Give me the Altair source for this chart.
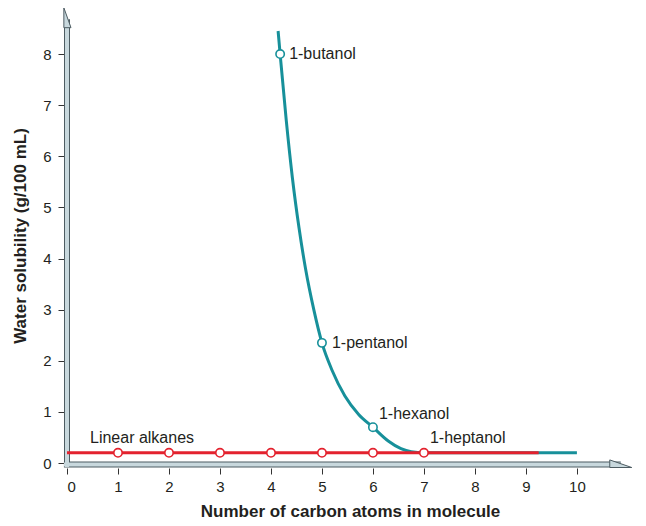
import altair as alt
import pandas as pd

# ---- data ----
alcohol_curve_x = [4.14, 4.18, 4.30, 4.42, 4.55, 4.68, 4.84, 5.00, 5.20, 5.45, 5.72, 6.00, 6.30, 6.55, 6.75, 7.00, 8.00, 10.00]
alcohol_curve_y = [8.45, 8.00, 6.70, 5.58, 4.60, 3.79, 3.00, 2.35, 1.81, 1.31, 0.95, 0.70, 0.43, 0.28, 0.22, 0.20, 0.20, 0.20]

alcohol_names = ["1-butanol", "1-pentanol", "1-hexanol"]
alcohol_x = [4.18, 5.0, 6.0]
alcohol_y = [8.0, 2.35, 0.70]

alkane_x = [1, 2, 3, 4, 5, 6, 7]
alkane_y = [0.2, 0.2, 0.2, 0.2, 0.2, 0.2, 0.2]
alkane_line_x = [0.0, 9.25]
alkane_line_y = [0.2, 0.2]

x_ticks = list(range(0, 11))
y_ticks = list(range(0, 9))

TEAL = "#17909a"
RED = "#e3222e"
TXT = "#231f20"
FONT = "Liberation Sans"
BAR_DARK = "#4d5c62"
BAR_LIGHT = "#c8d8dd"

xs = alt.Scale(domain=[0, 11.1], nice=False, zero=False)
ys = alt.Scale(domain=[0, 8.9], nice=False, zero=False)

curve_df = pd.DataFrame({"x": alcohol_curve_x, "y": alcohol_curve_y})
alc_df = pd.DataFrame({"x": alcohol_x, "y": alcohol_y, "name": alcohol_names})
alk_df = pd.DataFrame({"x": alkane_x, "y": alkane_y})
alk_line_df = pd.DataFrame({"x": alkane_line_x, "y": alkane_line_y})

xaxis = alt.Axis(values=x_ticks, domain=False, grid=False, tickSize=6, tickColor="#333333",
                 offset=5, labelFontSize=15, labelPadding=5, labelColor=TXT, labelFont=FONT,
                 title="Number of carbon atoms in molecule", titleFontSize=17,
                 titleFontWeight="bold", titleColor=TXT, titleFont=FONT, titlePadding=9)
yaxis = alt.Axis(values=y_ticks, domain=False, grid=False, tickSize=6, tickColor="#333333",
                 offset=3, labelFontSize=15, labelPadding=7, labelColor=TXT, labelFont=FONT,
                 title="Water solubility (g/100 mL)", titleFontSize=17,
                 titleFontWeight="bold", titleColor=TXT, titleFont=FONT, titlePadding=13)

# axis bars drawn as rules
ybar_df = pd.DataFrame({"x": [0.0], "y": [-0.08], "y2": [8.68]})
xbar_df = pd.DataFrame({"x": [-0.06], "x2": [10.86], "y": [-0.03]})

ybar_outer = alt.Chart(ybar_df).mark_rule(color=BAR_DARK, strokeWidth=6).encode(
    x=alt.X("x:Q", scale=xs, axis=xaxis), y=alt.Y("y:Q", scale=ys, axis=yaxis), y2="y2:Q")
ybar_inner = alt.Chart(ybar_df).mark_rule(color=BAR_LIGHT, strokeWidth=4).encode(
    x=alt.X("x:Q", scale=xs), y=alt.Y("y:Q", scale=ys), y2="y2:Q")
xbar_outer = alt.Chart(xbar_df).mark_rule(color=BAR_DARK, strokeWidth=6).encode(
    x=alt.X("x:Q", scale=xs), x2="x2:Q", y=alt.Y("y:Q", scale=ys))
xbar_inner = alt.Chart(xbar_df).mark_rule(color=BAR_LIGHT, strokeWidth=4).encode(
    x=alt.X("x:Q", scale=xs), x2="x2:Q", y=alt.Y("y:Q", scale=ys))

yarrow_df = pd.DataFrame({"x": [0.0], "y": [8.70]})
xarrow_df = pd.DataFrame({"x": [10.86], "y": [-0.03]})
yarrow = alt.Chart(yarrow_df).mark_point(
    shape="M-0.3,0.9 L-0.3,-1 L0.38,0.9 Z", filled=True, fill=BAR_LIGHT, stroke=BAR_DARK,
    strokeWidth=1, size=441, opacity=1).encode(x=alt.X("x:Q", scale=xs), y=alt.Y("y:Q", scale=ys))
xarrow = alt.Chart(xarrow_df).mark_point(
    shape="M-1,0.27 L1,0.27 L-1,-0.42 Z", filled=True, fill=BAR_LIGHT, stroke=BAR_DARK,
    strokeWidth=1, size=484, opacity=1).encode(x=alt.X("x:Q", scale=xs), y=alt.Y("y:Q", scale=ys))

teal_line = alt.Chart(curve_df).mark_line(color=TEAL, strokeWidth=3, interpolate="monotone").encode(
    x=alt.X("x:Q", scale=xs), y=alt.Y("y:Q", scale=ys), order="x:Q")
red_line = alt.Chart(alk_line_df).mark_line(color=RED, strokeWidth=3).encode(
    x=alt.X("x:Q", scale=xs), y=alt.Y("y:Q", scale=ys))

alc_pts = alt.Chart(alc_df).mark_point(shape="circle", filled=True, fill="white", stroke=TEAL,
                                       strokeWidth=1.6, size=70, opacity=1).encode(
    x=alt.X("x:Q", scale=xs), y=alt.Y("y:Q", scale=ys))
alk_pts = alt.Chart(alk_df).mark_point(shape="circle", filled=True, fill="white", stroke=RED,
                                       strokeWidth=1.6, size=70, opacity=1).encode(
    x=alt.X("x:Q", scale=xs), y=alt.Y("y:Q", scale=ys))

def label(df, dx, dy):
    return alt.Chart(df).mark_text(align="left", baseline="middle", dx=dx, dy=dy, fontSize=16,
                                   font=FONT, color=TXT).encode(
        x=alt.X("x:Q", scale=xs), y=alt.Y("y:Q", scale=ys), text="name:N")

lab_but = label(alc_df.iloc[[0]], 9, 0)
lab_pen = label(alc_df.iloc[[1]], 10, 0)
lab_hex = label(alc_df.iloc[[2]], 6, -13)
hep_df = pd.DataFrame({"x": [alkane_x[6]], "y": [alkane_y[6]], "name": ["1-heptanol"]})
lab_hep = label(hep_df, 6, -15)
alk_lab_df = pd.DataFrame({"x": [alkane_x[0]], "y": [alkane_y[0]], "name": ["Linear alkanes"]})
lab_alk = label(alk_lab_df, -28, -15)

chart = alt.layer(
    ybar_outer, xbar_outer, ybar_inner, xbar_inner, yarrow, xarrow,
    teal_line, red_line, alc_pts, alk_pts,
    lab_but, lab_pen, lab_hex, lab_hep, lab_alk,
).properties(
    width=566, height=455,
    autosize=alt.AutoSizeParams(type="none"),
    padding={"left": 59, "top": 0, "right": 5, "bottom": 60},
    background="white",
).configure_view(stroke=None)

chart.save("out.html", embed_options={"renderer": "svg", "actions": False})
